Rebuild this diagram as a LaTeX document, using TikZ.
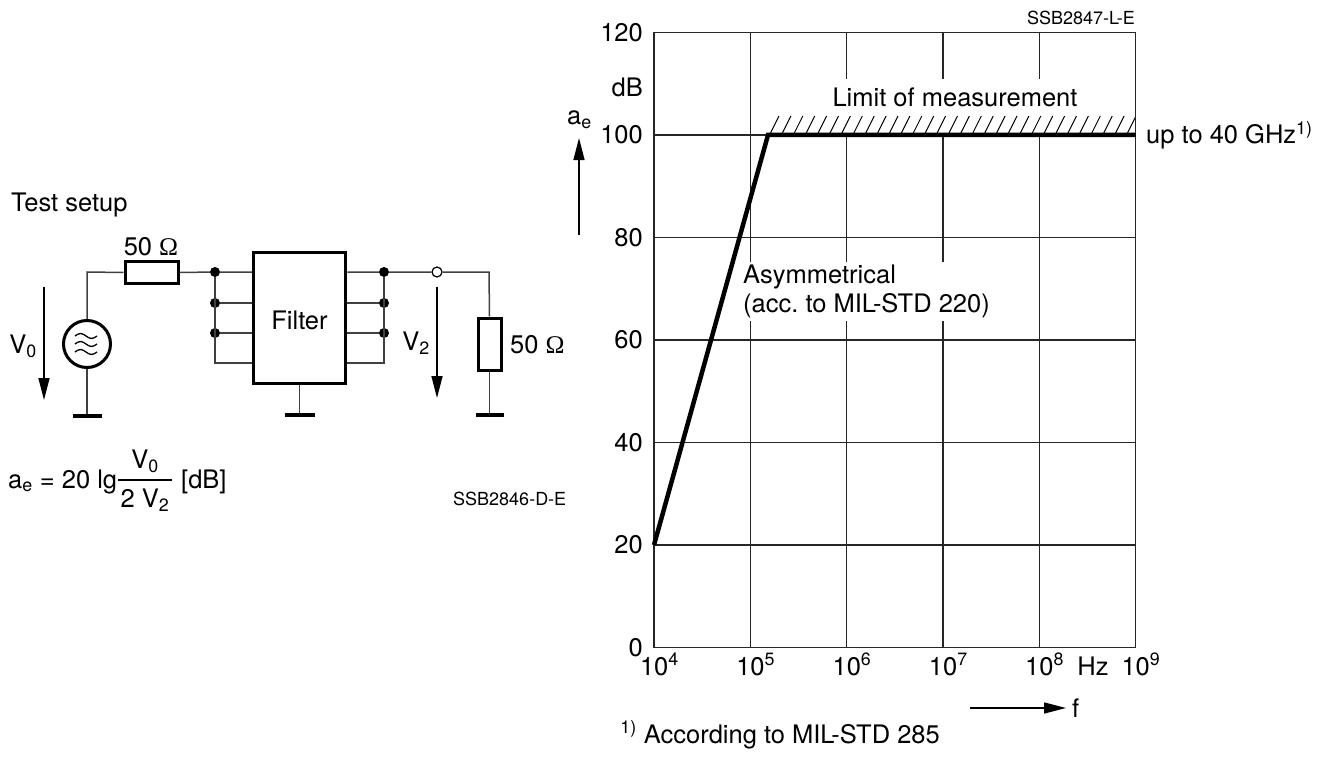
\documentclass[tikz,border=0pt]{standalone}
\usepackage{fontspec}
\setmainfont{TeX Gyre Heros}
\newfontfamily\omegafont{Liberation Serif}
\usetikzlibrary{arrows.meta,calc}
\begin{document}
\begin{tikzpicture}[x=1pt,y=-1pt,
  wire/.style={line width=1.5pt, black!75},
  thickbox/.style={draw, line width=3.5pt, black, inner sep=0pt},
  gnd/.style={line width=4pt},
  dot/.style={circle, fill=black, inner sep=0pt, minimum size=10pt},
  odot/.style={circle, draw=black, fill=white, line width=1.2pt, inner sep=0pt, minimum size=10pt},
  lbl/.style={font=\fontsize{25.5}{29}\selectfont, inner sep=0pt},
  small/.style={font=\fontsize{18}{21}\selectfont, inner sep=0pt},
  varrow/.style={line width=1.5pt, -{Triangle[length=22pt,width=11pt]}},
  gridline/.style={line width=1.4pt, black!85},
  curve/.style={line width=4.5pt, line join=miter},
]
\useasboundingbox (0,0) rectangle (1325,757);

% ---------------- circuit ----------------
\node[lbl, anchor=west] (ts) at (11,205) {Test setup};

\node[circle, draw, line width=3pt, minimum size=47pt, inner sep=0pt] (src) at (87,344) {};
\foreach \dy in {-8,0,8}
  \draw[line width=1.3pt] (75,344+\dy) sin (80.5,341.5+\dy) cos (86,344+\dy) sin (91.5,346.5+\dy) cos (97,344+\dy);
\coordinate (c1) at (87,272);
\node[thickbox, line width=3pt, minimum width=53pt, minimum height=22pt] (r1) at (151.5,272.5) {};
\node[lbl] (r1l) at (151,247) {50 {\omegafont Ω}};

\node[thickbox, minimum width=92pt, minimum height=131pt] (flt) at (299.5,318) {};
\node[lbl] (fltl) at (299.5,320) {Filter};

\node[dot] (dl1) at (215,272) {};
\node[dot] (dl2) at (215,303) {};
\node[dot] (dl3) at (215,333) {};
\coordinate (dl4) at (215,363);
\node[dot] (dr1) at (384,272) {};
\node[dot] (dr2) at (384,303) {};
\node[dot] (dr3) at (384,333) {};
\coordinate (dr4) at (384,363);
\node[odot] (oc) at (437,272) {};
\coordinate (c2) at (489,272);
\node[thickbox, line width=3pt, minimum width=23pt, minimum height=52pt] (r2) at (489.5,344) {};
\node[lbl, anchor=west] (r2l) at (510,345) {50 {\omegafont Ω}};

\coordinate (g1) at (87,416);
\coordinate (g2) at (299.5,415);
\coordinate (g3) at (489.5,415);

\draw[wire] (src.north) -- (c1) -- (r1.west);
\draw[wire] (r1.east) -- (dl1) -- (flt.west |- dl1);
\draw[wire] (dl2) -- (flt.west |- dl2);
\draw[wire] (dl3) -- (flt.west |- dl3);
\draw[wire] (dl1) -- (dl4) -- (flt.west |- dl4);
\draw[wire] (flt.east |- dr1) -- (dr1) -- (oc) -- (c2) -- (r2.north);
\draw[wire] (flt.east |- dr2) -- (dr2);
\draw[wire] (flt.east |- dr3) -- (dr3);
\draw[wire] (flt.east |- dr4) -- (dr4) -- (dr1);
\draw[wire] (src.south) -- (g1);
\draw[wire] (flt.south) -- (g2);
\draw[wire] (r2.south) -- (g3);
\draw[gnd] ($(g1)+(-14.5,0)$) -- ($(g1)+(14.5,0)$);
\draw[gnd] ($(g2)+(-15,0)$) -- ($(g2)+(15,0)$);
\draw[gnd] ($(g3)+(-14,0)$) -- ($(g3)+(14,0)$);

\coordinate (v0a) at (44,287);
\coordinate (v0b) at (44,400);
\draw[varrow] (v0a) -- (v0b);
\node[lbl] (v0l) at (23,346) {V\textsubscript{0}};
\coordinate (v2a) at (437,287);
\coordinate (v2b) at (437,398);
\draw[varrow] (v2a) -- (v2b);
\node[lbl] (v2l) at (416,343) {V\textsubscript{2}};

% formula
\node[lbl, anchor=base west] (fm) at (8,488) {a\textsubscript{e} = 20 lg};
\node[lbl, anchor=base] (num) at (145,468) {V\textsubscript{0}};
\coordinate (fb1) at (118,480);
\coordinate (fb2) at (172,480);
\draw[line width=1.3pt] (fb1) -- (fb2);
\node[lbl, anchor=base] (den) at (145,507) {2 V\textsubscript{2}};
\node[lbl, anchor=base west] (db) at (181,488) {[dB]};
\node[small, anchor=west] (ssb1) at (453,499) {SSB2846-D-E};

% ---------------- graph ----------------
\draw[gridline] (654,32.5) rectangle (1135.5,647.5);
\foreach \k in {1,...,4}
  \draw[gridline] ({654+96.3*\k},32.5) -- ({654+96.3*\k},647.5);
\foreach \j in {1,...,5}
  \draw[gridline] (654,{647.5-102.5*\j}) -- (1135.5,{647.5-102.5*\j});

\fill[white] (770,79) rectangle (1134,133);
\node[lbl] (lim) at (955,97) {Limit of measurement};
\begin{scope}
  \clip (766,110) rectangle (1135,135);
  \foreach \i in {0,...,31}
    \draw[line width=1pt] ({770+11.9*\i},134) -- ({779+11.9*\i},116);
\end{scope}

\node[lbl, fill=white, align=left, anchor=north west, inner sep=3pt] (asy) at (740,262) {Asymmetrical\\(acc.\ to MIL-STD 220)};

\coordinate (p0) at (654,545);
\coordinate (p1) at (768,135);
\coordinate (p2) at (1135.5,135);
\draw[curve] (p0) -- (p1) -- (p2);

\node[lbl, anchor=west] (up) at (1146,135) {up to 40 GHz\textsuperscript{1)}};
\node[small, anchor=east] (ssb2) at (1135,18) {SSB2847-L-E};

% y labels
\foreach \v [count=\j from 0] in {0,20,40,60,80,100,120}
  \node[lbl, anchor=east] at (643,{647.5-102.5*\j}) {\v};
\node[lbl, anchor=east] (dbl) at (643,87) {dB};
\node[lbl, anchor=west] (ael) at (567,120) {a\textsubscript{e}};
\coordinate (aa) at (579,235);
\coordinate (ab) at (579,138);
\draw[varrow] (aa) -- (ab);

% x labels
\foreach \k/\e in {0/4,1/5,2/6,3/7,4/8,5/9}
  \node[lbl, anchor=base west] at ({654+96.3*\k-14.2},675) {10\textsuperscript{\e}};
\node[lbl, anchor=base] (hz) at (1093,675) {Hz};
\coordinate (fa) at (970,708);
\coordinate (fb) at (1066,708);
\draw[varrow] (fa) -- (fb);
\node[lbl, anchor=west] (fl) at (1072,708) {f};
\node[lbl, anchor=base east] (foot) at (940,743) {\textsuperscript{1)} According to MIL-STD 285};
\end{tikzpicture}
\end{document}
